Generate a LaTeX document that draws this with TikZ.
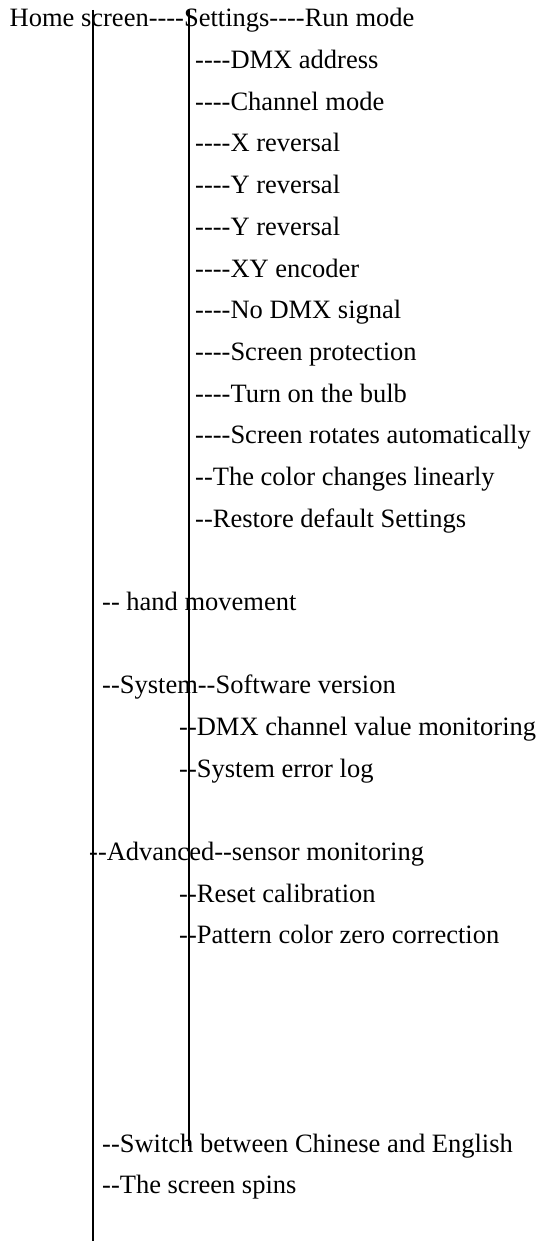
\documentclass[tikz,border=0pt]{standalone}
\usepackage{fontspec}
\setmainfont{Liberation Serif}[Ligatures=TeXOff]
\begin{document}
\begin{tikzpicture}[x=1pt,y=1pt,
  lbl/.style={anchor=base west, inner sep=0pt, font=\fontsize{26.5}{30}\selectfont},
  vline/.style={line width=2pt, black}]
\useasboundingbox (0,0) rectangle (540,-1241);
% vertical guide lines
\coordinate (l1top) at (92.5,-10);
\coordinate (l1bot) at (92.5,-1241);
\coordinate (l2top) at (189,-10);
\coordinate (l2bot) at (189,-1146);
\draw[vline] (l1top) -- (l1bot);
\draw[vline] (l2top) -- (l2bot);
% texts
\node[lbl] (home) at (9.5,-27) {Home screen----Settings----Run mode};
\node[lbl] (s1) at (195,-68.7) {----DMX address};
\node[lbl] (s2) at (195,-110.3) {----Channel mode};
\node[lbl] (s3) at (195,-152) {----X reversal};
\node[lbl] (s4) at (195,-193.7) {----Y reversal};
\node[lbl] (s5) at (195,-235.3) {----Y reversal};
\node[lbl] (s6) at (195,-277) {----XY encoder};
\node[lbl] (s7) at (195,-318.7) {----No DMX signal};
\node[lbl] (s8) at (195,-360.3) {----Screen protection};
\node[lbl] (s9) at (195,-402) {----Turn on the bulb};
\node[lbl] (s10) at (195,-443.7) {----Screen rotates automatically};
\node[lbl] (s11) at (195,-485.3) {--The color changes linearly};
\node[lbl] (s12) at (195,-527) {--Restore default Settings};
\node[lbl] (hand) at (102,-610.3) {-- hand movement};
\node[lbl] (sys) at (102,-693.7) {--System--Software version};
\node[lbl] (sys1) at (179,-735.3) {--DMX channel value monitoring};
\node[lbl] (sys2) at (179,-777) {--System error log};
\node[lbl] (adv) at (89,-860.3) {--Advanced--sensor monitoring};
\node[lbl] (adv1) at (179,-902) {--Reset calibration};
\node[lbl] (adv2) at (179,-943.7) {--Pattern color zero correction};
\node[lbl] (lang) at (102,-1152) {--Switch between Chinese and English};
\node[lbl] (spin) at (102,-1193.7) {--The screen spins};
\end{tikzpicture}
\end{document}
